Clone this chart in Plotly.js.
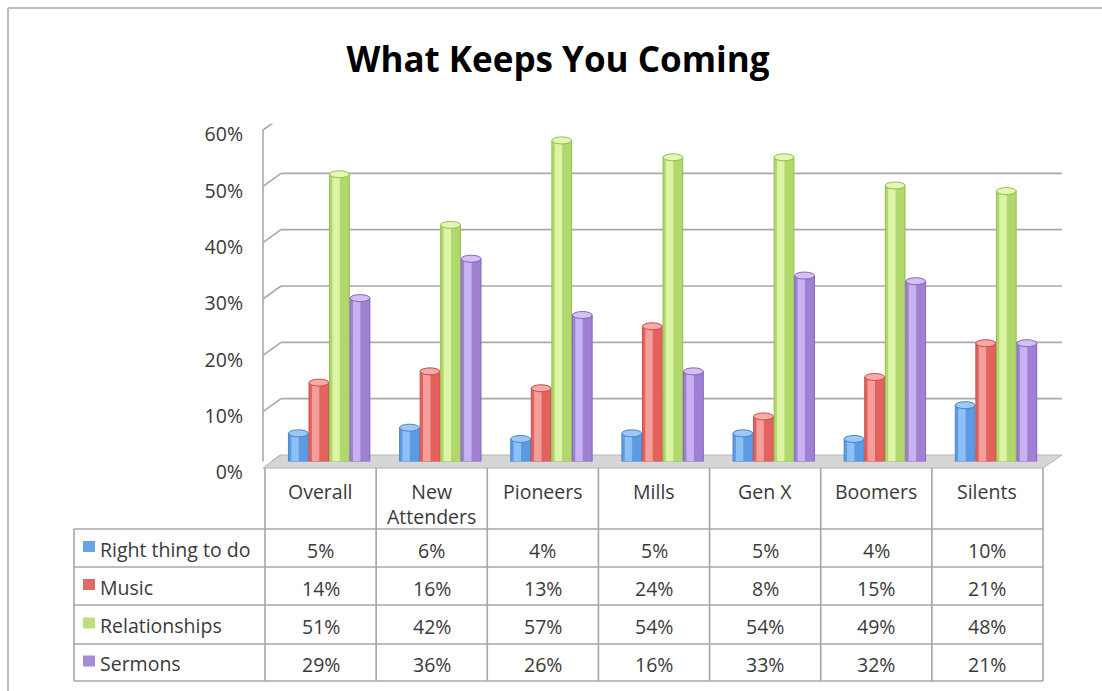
<!DOCTYPE html>
<html>
<head>
<meta charset="utf-8">
<script src="https://cdn.plot.ly/plotly-3.0.1.min.js"></script>
<style>html,body{margin:0;padding:0;background:#fff;}#chart{width:1102px;height:691px;}</style>
</head>
<body>
<div id="chart"></div>
<script>
// ---- data ----
const categories = ['Overall', 'New Attenders', 'Pioneers', 'Mills', 'Gen X', 'Boomers', 'Silents'];
const headerLabels = ['Overall', 'New<br>Attenders', 'Pioneers', 'Mills', 'Gen X', 'Boomers', 'Silents'];
const seriesNames = ['Right thing to do', 'Music', 'Relationships', 'Sermons'];
const rightThing = [5, 6, 4, 5, 5, 4, 10];
const music = [14, 16, 13, 24, 8, 15, 21];
const relationships = [51, 42, 57, 54, 54, 49, 48];
const sermons = [29, 36, 26, 16, 33, 32, 21];
const yTicks = [0, 10, 20, 30, 40, 50, 60];
const yTickText = ['0%', '10%', '20%', '30%', '40%', '50%', '60%'];
const chartTitle = 'What Keeps You Coming';

// ---- styling ----
const seriesValues = [rightThing, music, relationships, sermons];
const baseColors = ['#5b9be3', '#e4625e', '#b0d86c', '#9f80d3'];
const lightColors = ['#8fc0f5', '#f59f9c', '#dcf4a6', '#c8b2f2'];
const topColors = ['#9cc8f5', '#f7aaa7', '#e4f8b4', '#d3c0f5'];
const lineColors = ['#4a85c9', '#c94e4a', '#93bd52', '#8566ba'];
const keyColors = ['#6aa4e6', '#e06a67', '#b9df80', '#a68bd6'];

const W = 1102, H = 691;
const px = x => x / W;
const py = y => 1 - y / H;
const font = 'Open Sans, Noto Sans, sans-serif';
const textColor = '#3a3a3a';
const gridColor = '#a9a9a9';
const fs = 19.5;

// geometry (pixels)
const frontLeft = 265, frontRight = 1043, depthX = 18, depthY = 13;
const midShift = depthX / 2;
const colW = (frontRight - frontLeft) / categories.length;
const tableLeft = 74, headerTop = 468, headerBottom = 529;
const rowBounds = [529, 567, 605, 644, 681];

const groupW = 0.74, barStep = groupW / seriesValues.length;
const traces = [];
const shapes = [];
seriesValues.forEach((vals, s) => {
  const off = -groupW / 2 + s * barStep;
  const bw = barStep * 0.96;
  traces.push({
    type: 'bar', x: categories, y: vals, name: seriesNames[s],
    width: bw, offset: off,
    marker: {color: baseColors[s], line: {color: lineColors[s], width: 1}},
    hoverinfo: 'name+y', showlegend: false
  });
  traces.push({
    type: 'bar', x: categories, y: vals, name: seriesNames[s],
    width: barStep * 0.36, offset: off + barStep * 0.14,
    marker: {color: lightColors[s], line: {width: 0}},
    hoverinfo: 'skip', showlegend: false
  });
  // elliptical cylinder tops anchored at each value
  vals.forEach((v, i) => {
    shapes.push({type: 'circle', layer: 'above', xref: 'x', yref: 'y', ysizemode: 'pixel', yanchor: v,
      x0: i + off, x1: i + off + bw, y0: -3.5, y1: 3.5,
      fillcolor: topColors[s], line: {color: lineColors[s], width: 1}});
  });
});

// outer chart border
shapes.push({type: 'line', xref: 'paper', yref: 'paper', x0: px(8), x1: px(1102), y0: py(8), y1: py(8), line: {color: '#bdbdbd', width: 2}});
shapes.push({type: 'line', xref: 'paper', yref: 'paper', x0: px(8), x1: px(8), y0: py(8), y1: py(691), line: {color: '#bdbdbd', width: 2}});

// back-wall gridlines and left-wall diagonals
yTicks.forEach(v => {
  if (v > 0) {
    shapes.push({type: 'line', layer: 'below', xref: 'paper', yref: 'y', ysizemode: 'pixel', yanchor: v,
      x0: px(frontLeft - 2 + depthX), x1: px(frontRight + depthX + 1), y0: depthY / 2, y1: depthY / 2,
      line: {color: gridColor, width: 1.6}});
  }
  shapes.push({type: 'line', layer: 'below', xref: 'paper', yref: 'y', ysizemode: 'pixel', yanchor: v,
    x0: px(frontLeft - 2), x1: px(frontLeft - 2 + depthX), y0: -depthY / 2, y1: depthY / 2,
    line: {color: gridColor, width: 1.6}});
});
// left wall vertical
shapes.push({type: 'line', layer: 'below', xref: 'paper', yref: 'y', ysizemode: 'pixel', yanchor: 0,
  x0: px(frontLeft - 2), x1: px(frontLeft - 2), y0: -depthY / 2, y1: -depthY / 2 + 338,
  line: {color: gridColor, width: 1.6}});
// floor
const fl = [[frontLeft - 2, headerTop], [frontLeft - 2 + depthX, headerTop - depthY], [frontRight + depthX + 1, headerTop - depthY], [frontRight, headerTop]];
shapes.push({type: 'path', layer: 'below', xref: 'paper', yref: 'paper',
  path: 'M' + fl.map(p => px(p[0]) + ',' + py(p[1])).join(' L') + ' Z',
  fillcolor: '#d6d6d6', line: {color: '#b5b5b5', width: 1}});

// table lines
const tableLine = {color: '#a6a6a6', width: 1.6};
for (let i = 0; i <= categories.length; i++) {
  const x = frontLeft + i * colW;
  shapes.push({type: 'line', xref: 'paper', yref: 'paper', x0: px(x), x1: px(x), y0: py(headerTop), y1: py(rowBounds[rowBounds.length - 1]), line: tableLine});
}
rowBounds.forEach(y => {
  shapes.push({type: 'line', xref: 'paper', yref: 'paper', x0: px(tableLeft), x1: px(frontRight), y0: py(y), y1: py(y), line: tableLine});
});
shapes.push({type: 'line', xref: 'paper', yref: 'paper', x0: px(tableLeft), x1: px(tableLeft), y0: py(rowBounds[0]), y1: py(rowBounds[rowBounds.length - 1]), line: tableLine});

// legend keys, row labels, values
const annotations = [];
seriesNames.forEach((name, s) => {
  const rc = (rowBounds[s] + rowBounds[s + 1]) / 2;
  shapes.push({type: 'rect', xref: 'paper', yref: 'paper', x0: px(83), x1: px(95), y0: py(rc + 4), y1: py(rc - 7),
    fillcolor: keyColors[s], line: {width: 0}});
  annotations.push({xref: 'paper', yref: 'paper', x: px(98), y: py(rc + 1), xanchor: 'left', yanchor: 'middle',
    text: name, showarrow: false, font: {family: font, size: fs, color: textColor}});
  seriesValues[s].forEach((v, i) => {
    annotations.push({xref: 'x', yref: 'paper', x: categories[i], xshift: -midShift, y: py(rc + 2), xanchor: 'center', yanchor: 'middle',
      text: v + '%', showarrow: false, font: {family: font, size: fs, color: textColor}});
  });
});
headerLabels.forEach((lab, i) => {
  annotations.push({xref: 'x', yref: 'paper', x: categories[i], xshift: -midShift, y: py(476), xanchor: 'center', yanchor: 'top',
    text: lab, showarrow: false, font: {family: font, size: fs, color: textColor}});
});

const layout = {
  width: W, height: H,
  margin: {l: 0, r: 0, t: 0, b: 0},
  paper_bgcolor: '#ffffff', plot_bgcolor: 'rgba(0,0,0,0)',
  title: {text: '<b>' + chartTitle + '</b>', x: px(558), xanchor: 'center', y: py(60), yanchor: 'middle',
    font: {family: font, size: 35, color: '#000000'}},
  barmode: 'overlay',
  xaxis: {type: 'category', categoryarray: categories, range: [-0.5, categories.length - 0.5],
    domain: [px(frontLeft + midShift), px(frontRight + midShift)],
    showticklabels: false, showgrid: false, zeroline: false, showline: false, ticks: '', fixedrange: true},
  yaxis: {range: [0, 60], domain: [py(headerTop - depthY / 2), py(headerTop - depthY / 2 - 338)],
    tickmode: 'array', tickvals: yTicks, ticktext: yTickText, showgrid: false, zeroline: false, showline: false, ticks: '',
    ticklabelshift: 11, ticklabelstandoff: 30,
    tickfont: {family: font, size: fs, color: textColor}, fixedrange: true},
  shapes: shapes,
  annotations: annotations,
  showlegend: false
};

Plotly.newPlot('chart', traces, layout, {displayModeBar: false, staticPlot: true});
</script>
</body>
</html>
